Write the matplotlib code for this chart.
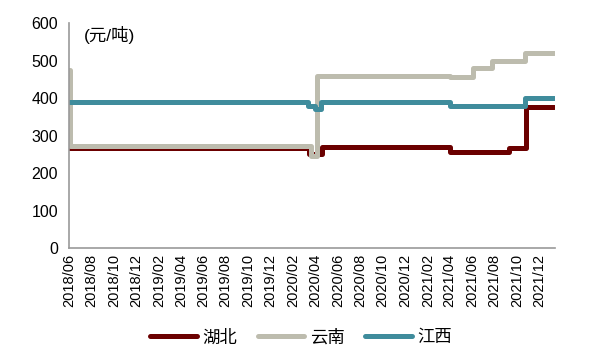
import numpy as np
import pandas as pd
import matplotlib
matplotlib.use('Agg')
import matplotlib.pyplot as plt

plt.rcParams['font.family'] = ['Liberation Sans', 'Noto Sans CJK SC', 'DejaVu Sans']

# change points of each step series (date, price)
hubei_dates = ['2018-06-01', '2020-03-15', '2020-04-18', '2021-04-01', '2021-09-10', '2021-10-25', '2022-01-10']
hubei_vals = [267, 250, 270, 257, 267, 377, 377]

yunnan_dates = ['2018-06-01', '2018-06-04', '2020-03-20', '2020-04-06', '2021-04-03',
                '2021-06-04', '2021-07-25', '2021-10-22', '2022-01-10']
yunnan_vals = [475, 272, 245, 460, 455, 480, 500, 520, 520]

jiangxi_dates = ['2018-06-01', '2020-03-13', '2020-04-01', '2020-04-15', '2021-04-01', '2021-10-22', '2022-01-10']
jiangxi_vals = [390, 380, 372, 390, 380, 400, 400]

names = ['湖北', '云南', '江西']
colors = ['#6B0000', '#BDBCAE', '#3F8C9C']

fig = plt.figure(figsize=(6.02, 3.62), dpi=100)
ax = fig.add_axes([0.1146, 0.315, 0.807, 0.621])

series = [(hubei_dates, hubei_vals), (yunnan_dates, yunnan_vals), (jiangxi_dates, jiangxi_vals)]
for (d, v), n, c in zip(series, names, colors):
    ax.plot(pd.to_datetime(d), v, drawstyle='steps-post', color=c, lw=3.6,
            solid_joinstyle='round', solid_capstyle='round', label=n)

ax.set_ylim(0, 600)
ax.set_yticks(range(0, 601, 100))
ax.set_xlim(pd.Timestamp('2018-06-01'), pd.Timestamp('2022-01-12'))
ticks = pd.date_range('2018-06-01', '2021-12-01', freq='2MS')
ax.set_xticks(ticks)
ax.set_xticklabels([t.strftime('%Y/%m') for t in ticks], rotation=90, fontsize=10.5)
ax.tick_params(axis='y', labelsize=11.5, length=0, pad=8)
ax.tick_params(axis='x', length=0, pad=4)

for s in ['top', 'right']:
    ax.spines[s].set_visible(False)
for s in ['left', 'bottom']:
    ax.spines[s].set_color('#999999')
    ax.spines[s].set_linewidth(1.2)

ax.text(0.03, 0.947, '(元/吨)', transform=ax.transAxes, fontsize=12.5, va='center')

fig.legend(loc='lower center', bbox_to_anchor=(0.5, 0.0), ncol=3, frameon=False,
           handlelength=2.7, columnspacing=1.2, handletextpad=0.3,
           prop={'family': ['Noto Sans CJK SC'], 'size': 12.5})

fig.savefig('out.png', dpi=100)
